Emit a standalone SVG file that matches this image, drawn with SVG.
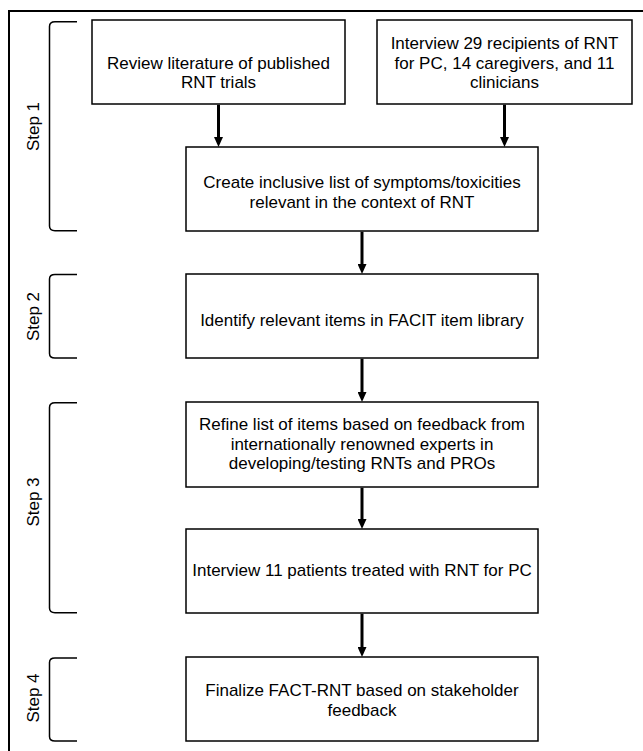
<svg xmlns="http://www.w3.org/2000/svg" width="643" height="751" viewBox="0 0 643 751">
<defs>
<style>
.frame{fill:none;stroke:#000;stroke-width:2}
.box{fill:#fff;stroke:#000;stroke-width:1.5}
.t{font-family:"Liberation Sans",Arial,sans-serif;font-size:17px;fill:#000;text-anchor:middle}
.br{fill:none;stroke:#000;stroke-width:1.5}
.arr{stroke:#000;stroke-width:3;fill:none}
</style>
<marker id="ah" viewBox="0 0 10 9" markerWidth="10" markerHeight="9" refX="1" refY="4.5" orient="auto" markerUnits="userSpaceOnUse">
<path d="M0,0 L10,4.5 L0,9 z" fill="#000"/>
</marker>
</defs>
<rect width="643" height="751" fill="#fff"/>
<rect class="frame" x="9" y="11" width="700" height="800"/>

<g id="brackets">
<g id="step1">
<path class="br" d="M77,21.7 H55 Q49.5,21.7 49.5,26.5 V226 Q49.5,230.7 55,230.7 H77"/>
<text class="t" transform="translate(38.5,126.5) rotate(-90)">Step 1</text>
</g>
<g id="step2">
<path class="br" d="M77,274.5 H55 Q49.5,274.5 49.5,279 V353.5 Q49.5,358 55,358 H77"/>
<text class="t" transform="translate(38.5,316.5) rotate(-90)">Step 2</text>
</g>
<g id="step3">
<path class="br" d="M77,402.7 H55 Q49.5,402.7 49.5,407.5 V608 Q49.5,612.7 55,612.7 H77"/>
<text class="t" transform="translate(38.5,502) rotate(-90)">Step 3</text>
</g>
<g id="step4">
<path class="br" d="M77,658 H55 Q49.5,658 49.5,662.5 V736.5 Q49.5,741 55,741 H77"/>
<text class="t" transform="translate(38.5,698) rotate(-90)">Step 4</text>
</g>
</g>

<g id="connectors">
<line class="arr" x1="218.5" y1="104.75" x2="218.5" y2="138" marker-end="url(#ah)"/>
<line class="arr" x1="504.5" y1="104.75" x2="504.5" y2="138" marker-end="url(#ah)"/>
<line class="arr" x1="362" y1="231.75" x2="362" y2="265" marker-end="url(#ah)"/>
<line class="arr" x1="362" y1="358.75" x2="362" y2="393" marker-end="url(#ah)"/>
<line class="arr" x1="362" y1="487.75" x2="362" y2="520" marker-end="url(#ah)"/>
<line class="arr" x1="362" y1="613.75" x2="362" y2="648" marker-end="url(#ah)"/>
</g>

<g id="review">
<rect class="box" x="92" y="20" width="253" height="84"/>
<text class="t" x="218.5" y="68.5">Review literature of published</text>
<text class="t" x="218.5" y="88">RNT trials</text>
</g>
<g id="interview29">
<rect class="box" x="377" y="20" width="255" height="84"/>
<text class="t" x="504.5" y="49">Interview 29 recipients of RNT</text>
<text class="t" x="504.5" y="68.5">for PC, 14 caregivers, and 11</text>
<text class="t" x="504.5" y="88">clinicians</text>
</g>
<g id="create">
<rect class="box" x="186" y="147" width="352" height="84"/>
<text class="t" x="362" y="188">Create inclusive list of symptoms/toxicities</text>
<text class="t" x="362" y="208">relevant in the context of RNT</text>
</g>
<g id="identify">
<rect class="box" x="186" y="274" width="352" height="84"/>
<text class="t" x="362" y="325.5">Identify relevant items in FACIT item library</text>
</g>
<g id="refine">
<rect class="box" x="186" y="402" width="352" height="85"/>
<text class="t" x="362" y="429.5">Refine list of items based on feedback from</text>
<text class="t" x="362" y="449.5">internationally renowned experts in</text>
<text class="t" x="362" y="469">developing/testing RNTs and PROs</text>
</g>
<g id="interview11">
<rect class="box" x="186" y="529" width="352" height="84"/>
<text class="t" x="362" y="576">Interview 11 patients treated with RNT for PC</text>
</g>
<g id="finalize">
<rect class="box" x="186" y="657" width="352" height="84"/>
<text class="t" x="362" y="695.5">Finalize FACT-RNT based on stakeholder</text>
<text class="t" x="362" y="715.5">feedback</text>
</g>
</svg>
